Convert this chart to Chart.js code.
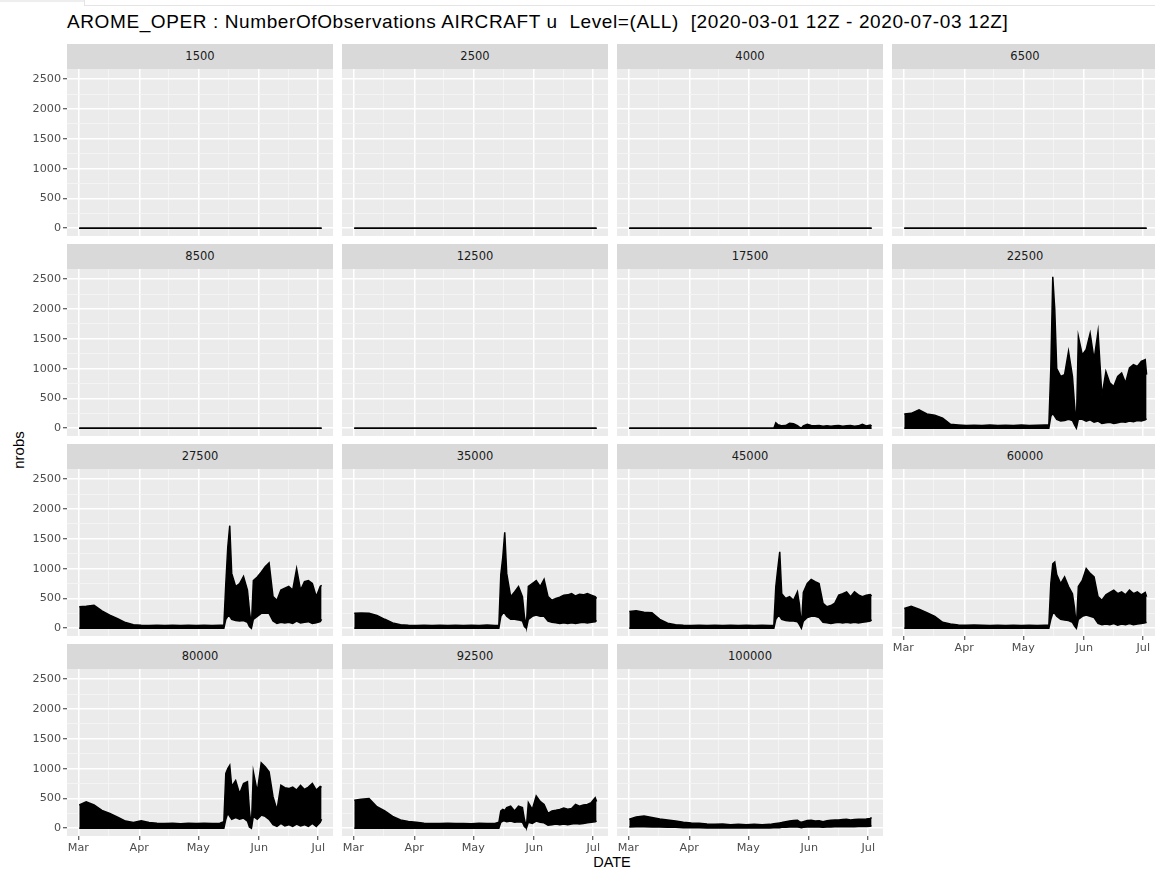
<!DOCTYPE html>
<html>
<head>
<meta charset="utf-8">
<title>AROME_OPER NumberOfObservations AIRCRAFT u</title>
<script src="https://cdn.jsdelivr.net/npm/chart.js@4.4.1/dist/chart.umd.min.js"></script>
<style>
  body { margin: 0; width: 1155px; height: 875px; overflow: hidden; background: #fff; position: relative;
         font-family: "Liberation Sans", Arial, sans-serif; }
  .abs { position: absolute; }
  #title { left: 67px; top: 12px; font-size: 19px; line-height: 19px; letter-spacing: 0.6px; color: #000; white-space: nowrap; }
  #ylab { left: 18px; top: 450px; font-size: 15px; color: #000; transform: translate(-50%, -50%) rotate(-90deg); white-space: nowrap; }
  #xlab { left: 612px; top: 862px; font-size: 14.5px; color: #000; transform: translate(-50%, -50%); }
  .strip { background: #D9D9D9; color: #1A1A1A; font-family: "DejaVu Sans", sans-serif; font-size: 11.5px;
           line-height: 25px; text-align: center; }
</style>
</head>
<body>
<div class="abs" style="left:0;top:0;width:84px;height:2px;background:#eeeeee"></div>
<div class="abs" style="left:84px;top:0;width:1071px;height:6px;border-left:1px solid #e4e4e4;border-bottom:1px solid #e4e4e4;box-sizing:border-box"></div>
<div id="title" class="abs">AROME_OPER : NumberOfObservations AIRCRAFT u&nbsp; Level=(ALL)&nbsp; [2020-03-01 12Z - 2020-07-03 12Z]</div>
<div id="ylab" class="abs">nrobs</div>
<div id="xlab" class="abs">DATE</div>

<script>
// days since 2020-03-01 00Z
const DAYS = [0.5, 4, 8, 12, 16, 20, 24, 28, 32, 36, 40, 44, 48, 52, 56, 60, 64, 68, 72, 74,
  75, 76, 77, 78, 80, 82, 84, 86, 87, 88, 89, 91, 93, 95, 97, 99, 101, 103, 105, 107, 109, 111, 113, 115, 117, 119, 121, 123, 123.7];

const MONTH_DAYS = [0, 31, 61, 92, 122];
const MONTH_LABELS = ['Mar', 'Apr', 'May', 'Jun', 'Jul'];
const MINOR_DAYS = [15.5, 46, 76.5, 107];
const Y_MAJOR = [0, 500, 1000, 1500, 2000, 2500];
const Y_MINOR = [250, 750, 1250, 1750, 2250];

const LEVELS = ['1500', '2500', '4000', '6500', '8500', '12500', '17500', '22500',
  '27500', '35000', '45000', '60000', '80000', '92500', '100000'];

// upper / lower envelope of nrobs (daily cycle) per level
const FLAT = [0, 0, 0, 0, 0, 0, 0, 0, 0, 0, 0, 0, 0, 0, 0, 0, 0, 0, 0, 0,
  0, 0, 0, 0, 0, 0, 0, 0, 0, 0, 0, 0, 0, 0, 0, 0, 0, 0, 0, 0, 0, 0, 0, 0, 0, 0, 0, 0, 0];

const HI_17500 = [0, 0, 0, 0, 0, 0, 0, 0, 0, 0, 0, 0, 0, 0, 0, 0, 0, 0, 0, 0,
  90, 60, 50, 40, 45, 85, 75, 45, 20, 0, 40, 65, 45, 40, 45, 35, 40, 35, 40, 45, 35, 40, 45, 35, 40, 65, 40, 55, 35];

const HI_22500 = [240, 250, 310, 240, 220, 170, 65, 55, 45, 50, 45, 55, 45, 50, 45, 55, 45, 50, 55, 55,
  1000, 2540, 2000, 1000, 870, 900, 1290, 870, 420, 40, 1540, 1230, 1320, 1590, 1150, 1620, 540, 950, 760, 700, 870, 925, 760, 1010, 1065, 1035, 1120, 1150, 900];
const LO_22500 = [0, 0, 0, 0, 0, 0, 0, 0, 0, 0, 0, 0, 0, 0, 0, 0, 0, 0, 0, 0,
  200, 250, 200, 150, 120, 130, 150, 130, 60, 0, 150, 150, 120, 140, 100, 120, 80, 90, 100, 80, 90, 110, 100, 120, 110, 130, 120, 140, 160];

const HI_27500 = [360, 370, 385, 290, 220, 160, 95, 60, 50, 45, 50, 45, 50, 45, 50, 45, 50, 45, 50, 50,
  750, 1360, 1720, 920, 700, 750, 870, 640, 300, 30, 800, 860, 940, 1030, 1095, 530, 470, 640, 670, 700, 640, 1000, 640, 780, 800, 750, 530, 700, 720];
const LO_27500 = [0, 0, 0, 0, 0, 0, 0, 0, 0, 0, 0, 0, 0, 0, 0, 0, 0, 0, 0, 0,
  150, 200, 200, 150, 130, 120, 130, 100, 30, 0, 150, 200, 250, 250, 250, 120, 80, 100, 90, 100, 80, 120, 90, 100, 110, 80, 90, 110, 150];

const HI_35000 = [250, 255, 250, 215, 150, 90, 60, 50, 45, 50, 45, 50, 45, 50, 45, 50, 45, 55, 45, 50,
  900, 1190, 1610, 920, 530, 610, 700, 530, 200, 30, 700, 750, 800, 700, 820, 530, 470, 500, 520, 555, 560, 580, 540, 570, 560, 580, 555, 530, 500];
const LO_35000 = [0, 0, 0, 0, 0, 0, 0, 0, 0, 0, 0, 0, 0, 0, 0, 0, 0, 0, 0, 0,
  200, 250, 250, 200, 150, 150, 140, 120, 30, 0, 150, 200, 220, 200, 200, 120, 100, 90, 80, 90, 80, 90, 80, 90, 100, 90, 100, 110, 130];

const HI_45000 = [280, 295, 270, 260, 150, 85, 60, 50, 45, 50, 45, 50, 45, 50, 45, 50, 45, 50, 45, 50,
  700, 1000, 1280, 580, 500, 530, 470, 610, 400, 20, 600, 750, 820, 780, 750, 420, 360, 380, 420, 555, 580, 610, 530, 610, 560, 530, 555, 565, 540];
const LO_45000 = [0, 0, 0, 0, 0, 0, 0, 0, 0, 0, 0, 0, 0, 0, 0, 0, 0, 0, 0, 0,
  150, 200, 200, 150, 130, 120, 120, 110, 60, 0, 120, 180, 200, 200, 180, 100, 90, 80, 90, 100, 90, 100, 90, 100, 90, 100, 110, 120, 140];

const HI_60000 = [330, 370, 320, 260, 200, 100, 72, 55, 50, 55, 50, 45, 50, 45, 50, 45, 50, 45, 50, 50,
  750, 1080, 1110, 900, 750, 860, 700, 580, 350, 20, 700, 800, 1000, 920, 860, 530, 470, 560, 600, 640, 580, 610, 560, 640, 580, 610, 560, 600, 530];
const LO_60000 = [0, 0, 0, 0, 0, 0, 0, 0, 0, 0, 0, 0, 0, 0, 0, 0, 0, 0, 0, 0,
  150, 250, 250, 200, 150, 140, 130, 100, 40, 0, 150, 200, 220, 200, 180, 80, 60, 70, 60, 80, 50, 70, 60, 80, 60, 70, 80, 90, 100];

const HI_80000 = [390, 445, 390, 300, 250, 185, 120, 95, 125, 95, 85, 80, 85, 75, 85, 80, 85, 80, 85, 110,
  920, 1000, 1055, 700, 800, 580, 750, 780, 300, 10, 945, 610, 1095, 1030, 945, 530, 305, 720, 680, 665, 690, 640, 720, 650, 690, 750, 640, 700, 690];
const LO_80000 = [0, 0, 0, 0, 0, 0, 0, 0, 0, 0, 0, 0, 0, 0, 0, 0, 0, 0, 0, 0,
  150, 250, 200, 150, 180, 150, 170, 120, 20, 0, 200, 150, 220, 200, 150, 60, 30, 80, 40, 60, 30, 70, 40, 60, 30, 80, 30, 100, 150];

const HI_92500 = [470, 485, 500, 360, 290, 200, 140, 115, 100, 85, 80, 78, 82, 78, 80, 75, 82, 78, 80, 100,
  290, 315, 300, 345, 370, 290, 370, 345, 150, 20, 430, 315, 540, 450, 400, 250, 290, 300, 315, 340, 320, 330, 400, 370, 390, 400, 430, 510, 450];
const LO_92500 = [0, 0, 0, 0, 0, 0, 0, 0, 0, 0, 0, 0, 0, 0, 0, 0, 0, 0, 0, 0,
  100, 120, 120, 110, 120, 100, 110, 100, 30, 0, 100, 80, 120, 100, 90, 50, 60, 70, 60, 70, 60, 70, 80, 70, 80, 90, 100, 110, 120];

const HI_100000 = [150, 190, 205, 180, 155, 140, 120, 100, 90, 85, 70, 65, 70, 60, 65, 60, 65, 60, 65, 75,
  80, 85, 90, 95, 110, 120, 130, 135, 110, 100, 110, 130, 135, 120, 125, 110, 125, 135, 140, 140, 145, 150, 140, 145, 150, 150, 155, 165, 180];
const LO_100000 = [20, 25, 25, 20, 20, 15, 15, 10, 10, 10, 5, 5, 5, 5, 5, 5, 5, 5, 5, 10,
  10, 10, 10, 15, 15, 20, 20, 20, 15, 10, 15, 20, 20, 20, 20, 15, 20, 20, 25, 25, 25, 25, 25, 25, 30, 30, 30, 35, 40];

const SERIES_HI = [FLAT, FLAT, FLAT, FLAT, FLAT, FLAT, HI_17500, HI_22500,
  HI_27500, HI_35000, HI_45000, HI_60000, HI_80000, HI_92500, HI_100000];
const SERIES_LO = [FLAT, FLAT, FLAT, FLAT, FLAT, FLAT, FLAT, LO_22500,
  LO_27500, LO_35000, LO_45000, LO_60000, LO_80000, LO_92500, LO_100000];

// facet layout (px)
const COL_X = [67, 342, 617, 892];
const ROW_Y = [44, 244, 444, 644];
const STRIP_H = 25, PLOT_W = 266, PLOT_H = 167;
const Y_AXIS_W = 36, X_AXIS_H = 20;

const panelBg = {
  id: 'panelBg',
  beforeDraw(c) {
    const a = c.chartArea, ctx = c.ctx;
    ctx.save();
    ctx.fillStyle = '#EBEBEB';
    ctx.fillRect(a.left, a.top, a.right - a.left, a.bottom - a.top);
    ctx.restore();
  }
};

const tickFont = { family: 'DejaVu Sans', size: 11.2 };

function makePanel(i) {
  const col = i % 4, row = Math.floor(i / 4);
  const isLeft = col === 0;
  const isBottom = i >= 11;
  const x0 = COL_X[col], y0 = ROW_Y[row];

  const strip = document.createElement('div');
  strip.className = 'abs strip';
  strip.style.cssText = `left:${x0}px;top:${y0}px;width:${PLOT_W}px;height:${STRIP_H}px`;
  strip.textContent = LEVELS[i];
  document.body.appendChild(strip);

  const cv = document.createElement('canvas');
  const w = PLOT_W + (isLeft ? Y_AXIS_W : 0);
  const h = PLOT_H + (isBottom ? X_AXIS_H : 0);
  cv.width = w; cv.height = h;
  cv.className = 'abs';
  cv.style.left = (x0 - (isLeft ? Y_AXIS_W : 0)) + 'px';
  cv.style.top = (y0 + STRIP_H) + 'px';
  cv.style.width = w + 'px'; cv.style.height = h + 'px';
  document.body.appendChild(cv);

  const hi = DAYS.map((d, k) => ({ x: d, y: SERIES_HI[i][k] }));
  const lo = DAYS.map((d, k) => ({ x: d, y: SERIES_LO[i][k] }));

  new Chart(cv, {
    type: 'line',
    data: {
      datasets: [
        { data: hi, borderColor: '#000', borderWidth: 1.5, pointRadius: 0, fill: false, tension: 0 },
        { data: lo, borderColor: '#000', borderWidth: 1.5, pointRadius: 0, fill: '-1', backgroundColor: '#000', tension: 0 }
      ]
    },
    options: {
      responsive: false,
      animation: false,
      devicePixelRatio: 1,
      layout: { padding: 0, autoPadding: false },
      plugins: { legend: { display: false }, tooltip: { enabled: false }, title: { display: false } },
      scales: {
        x: {
          type: 'linear',
          min: -5.75,
          max: 129.5,
          border: { display: false },
          afterBuildTicks: s => { s.ticks = MONTH_DAYS.concat(MINOR_DAYS).sort((a, b) => a - b).map(v => ({ value: v })); },
          afterFit: s => { s.height = isBottom ? X_AXIS_H : 0; s.paddingLeft = 0; s.paddingRight = 0; },
          grid: {
            drawTicks: isBottom,
            tickLength: 4,
            color: c => MONTH_DAYS.includes(c.tick.value) ? '#FFFFFF' : '#F5F5F5',
            lineWidth: c => MONTH_DAYS.includes(c.tick.value) ? 1.5 : 0.9,
            tickColor: c => MONTH_DAYS.includes(c.tick.value) ? '#333333' : 'rgba(0,0,0,0)',
            tickWidth: 1
          },
          ticks: {
            display: isBottom,
            autoSkip: false,
            maxRotation: 0,
            padding: 1,
            color: '#4D4D4D',
            font: tickFont,
            callback: v => { const k = MONTH_DAYS.indexOf(v); return k >= 0 ? MONTH_LABELS[k] : ''; }
          }
        },
        y: {
          type: 'linear',
          min: -130,
          max: 2670,
          border: { display: false },
          afterBuildTicks: s => { s.ticks = Y_MAJOR.concat(Y_MINOR).sort((a, b) => a - b).map(v => ({ value: v })); },
          afterFit: s => { s.width = isLeft ? Y_AXIS_W : 0; s.paddingTop = 0; s.paddingBottom = 0; },
          grid: {
            drawTicks: isLeft,
            tickLength: 4,
            color: c => Y_MAJOR.includes(c.tick.value) ? '#FFFFFF' : '#F5F5F5',
            lineWidth: c => Y_MAJOR.includes(c.tick.value) ? 1.5 : 0.9,
            tickColor: c => Y_MAJOR.includes(c.tick.value) ? '#333333' : 'rgba(0,0,0,0)',
            tickWidth: 1
          },
          ticks: {
            display: isLeft,
            autoSkip: false,
            padding: 2,
            color: '#4D4D4D',
            font: tickFont,
            callback: v => Y_MAJOR.includes(v) ? String(v) : ''
          }
        }
      }
    },
    plugins: [panelBg]
  });
}

for (let i = 0; i < LEVELS.length; i++) makePanel(i);
</script>
</body>
</html>
